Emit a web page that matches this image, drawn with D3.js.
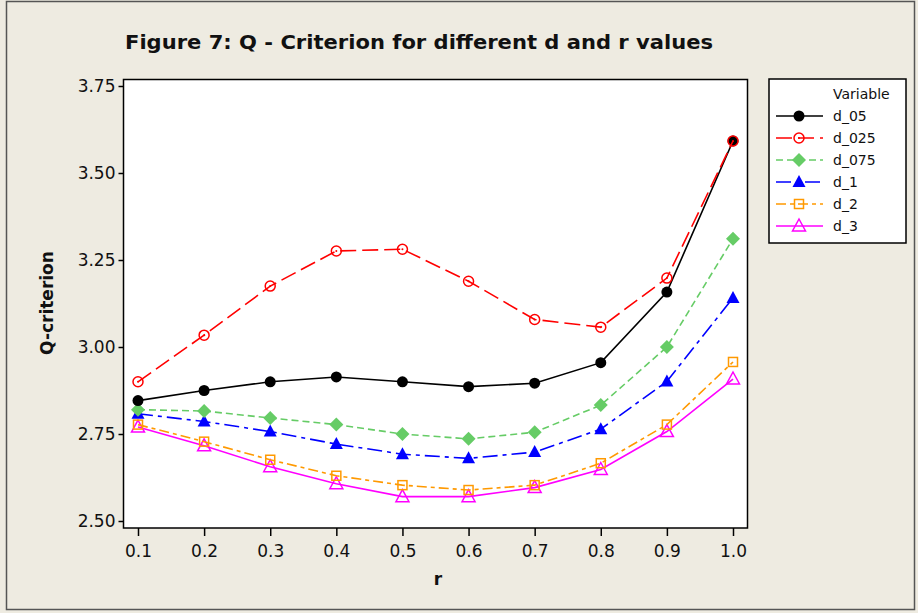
<!DOCTYPE html>
<html>
<head>
<meta charset="utf-8">
<script src="https://cdn.jsdelivr.net/npm/d3@7"></script>
<style>
  body { margin: 0; background: #eeebe1; }
  svg { display: block; }
  text { font-family: "DejaVu Sans", sans-serif; fill: #111; }
</style>
</head>
<body>
<div id="chart"></div>
<script>
// r values on x axis
const rValues = [0.1, 0.2, 0.3, 0.4, 0.5, 0.6, 0.7, 0.8, 0.9, 1.0];
const yTicks = [2.50, 2.75, 3.00, 3.25, 3.50, 3.75];

// series
const d_05  = [2.846, 2.875, 2.900, 2.914, 2.900, 2.886, 2.896, 2.955, 3.158, 3.592];
const d_025 = [2.900, 3.034, 3.175, 3.276, 3.281, 3.189, 3.079, 3.057, 3.198, 3.592];
const d_075 = [2.820, 2.816, 2.796, 2.777, 2.750, 2.736, 2.755, 2.833, 3.000, 3.311];
const d_1   = [2.808, 2.786, 2.757, 2.721, 2.692, 2.680, 2.698, 2.764, 2.901, 3.141];
const d_2   = [2.777, 2.728, 2.676, 2.630, 2.603, 2.589, 2.603, 2.666, 2.777, 2.957];
const d_3   = [2.770, 2.716, 2.656, 2.607, 2.570, 2.570, 2.596, 2.648, 2.757, 2.908];

const seriesNames = ["d_05", "d_025", "d_075", "d_1", "d_2", "d_3"];
const seriesValues = [d_05, d_025, d_075, d_1, d_2, d_3];

// look of each series
const styles = {
    d_05:  { color: "#000000", dash: null,         marker: "circleFilled" },
    d_025: { color: "#ff0000", dash: "16,6",       marker: "circleOpen" },
    d_075: { color: "#66cc66", dash: "7,4",        marker: "diamond" },
    d_1:   { color: "#0000ff", dash: "15,5,4,5",   marker: "triangleFilled" },
    d_2:   { color: "#ff9900", dash: "10,4,4,4",   marker: "square" },
    d_3:   { color: "#ff00ff", dash: null,         marker: "triangleOpen" }
};

const width = 918;
const height = 613;
const plot = { left: 123.5, right: 747.5, top: 79.5, bottom: 528 };

const svg = d3.select("#chart")
    .append("svg")
    .attr("width", width)
    .attr("height", height);

// outer frame
svg.append("rect")
    .attr("x", 6.5).attr("y", 1.5)
    .attr("width", 908).attr("height", 608)
    .attr("fill", "#eeebe1")
    .attr("stroke", "#555").attr("stroke-width", 1.5);

// title
svg.append("text")
    .attr("x", 125).attr("y", 49)
    .attr("font-size", 20)
    .attr("font-weight", "bold")
    .attr("font-family", "Liberation Sans, Arial, sans-serif")
    .attr("textLength", 588)
    .attr("lengthAdjust", "spacingAndGlyphs")
    .text("Figure 7: Q - Criterion for different d and r values");

// scales
const x = d3.scaleLinear().domain([0.1, 1.0]).range([138, 733]);
const y = d3.scaleLinear().domain([2.5, 3.75]).range([521, 86]);

// plot area
svg.append("rect")
    .attr("x", plot.left).attr("y", plot.top)
    .attr("width", plot.right - plot.left)
    .attr("height", plot.bottom - plot.top)
    .attr("fill", "#fff")
    .attr("stroke", "#000").attr("stroke-width", 1.5);

// axes
const xAxis = svg.append("g")
    .attr("transform", `translate(0,${plot.bottom})`)
    .call(d3.axisBottom(x).tickValues(rValues).tickFormat(d3.format(".1f")).tickSize(8).tickPadding(9));
const yAxis = svg.append("g")
    .attr("transform", `translate(${plot.left},0)`)
    .call(d3.axisLeft(y).tickValues(yTicks).tickFormat(d3.format(".2f")).tickSize(5).tickPadding(3));

[xAxis, yAxis].forEach(ax => {
    ax.select(".domain").remove();
    ax.selectAll("line").attr("stroke", "#000").attr("stroke-width", 1.5);
    ax.selectAll("text")
        .attr("font-size", 17)
        .attr("font-family", "DejaVu Sans Condensed, DejaVu Sans, sans-serif")
        .attr("fill", "#111");
});

// axis titles
svg.append("text")
    .attr("x", 438).attr("y", 585)
    .attr("text-anchor", "middle")
    .attr("font-size", 17).attr("font-weight", "bold")
    .text("r");
svg.append("text")
    .attr("transform", "translate(53,303) rotate(-90)")
    .attr("text-anchor", "middle")
    .attr("font-size", 17).attr("font-weight", "bold")
    .text("Q-criterion");

// marker drawing
function drawMarker(g, kind, color, cx, cy) {
    if (kind === "circleFilled") {
        g.append("circle").attr("cx", cx).attr("cy", cy).attr("r", 5.5).attr("fill", color);
    } else if (kind === "circleOpen") {
        g.append("circle").attr("cx", cx).attr("cy", cy).attr("r", 5)
            .attr("fill", "none").attr("stroke", color).attr("stroke-width", 1.5);
        g.append("circle").attr("cx", cx).attr("cy", cy).attr("r", 1).attr("fill", color);
    } else if (kind === "diamond") {
        g.append("path").attr("transform", `translate(${cx},${cy})`)
            .attr("d", "M0,-7L7,0L0,7L-7,0Z").attr("fill", color);
    } else if (kind === "triangleFilled") {
        g.append("path").attr("transform", `translate(${cx},${cy})`)
            .attr("d", "M0,-7L6.5,5L-6.5,5Z").attr("fill", color);
    } else if (kind === "square") {
        g.append("rect").attr("x", cx - 4.5).attr("y", cy - 4.5)
            .attr("width", 9).attr("height", 9)
            .attr("fill", "none").attr("stroke", color).attr("stroke-width", 1.5);
    } else if (kind === "triangleOpen") {
        g.append("path").attr("transform", `translate(${cx},${cy})`)
            .attr("d", "M0,-7L6.5,5L-6.5,5Z")
            .attr("fill", "none").attr("stroke", color).attr("stroke-width", 1.5);
    }
}

const line = d3.line()
    .x((d, i) => x(rValues[i]))
    .y(d => y(d));

// draw series, bottom ones first so black/red sit on top
const order = [5, 4, 3, 2, 0, 1];
order.forEach(k => {
    const name = seriesNames[k];
    const st = styles[name];
    const g = svg.append("g");
    g.append("path")
        .datum(seriesValues[k])
        .attr("d", line)
        .attr("fill", "none")
        .attr("stroke", st.color)
        .attr("stroke-width", 1.6)
        .attr("stroke-dasharray", st.dash);
    seriesValues[k].forEach((v, i) => drawMarker(g, st.marker, st.color, x(rValues[i]), y(v)));
});

// legend
const legend = svg.append("g");
legend.append("rect")
    .attr("x", 769).attr("y", 79)
    .attr("width", 137).attr("height", 164)
    .attr("fill", "#fff")
    .attr("stroke", "#000").attr("stroke-width", 1.5);
legend.append("text")
    .attr("x", 833).attr("y", 99)
    .attr("font-size", 14)
    .attr("font-family", "DejaVu Sans Condensed, DejaVu Sans, sans-serif")
    .text("Variable");

seriesNames.forEach((name, i) => {
    const st = styles[name];
    const ly = 116 + i * 22;
    const item = legend.append("g");
    item.append("line")
        .attr("x1", 776).attr("x2", 823)
        .attr("y1", ly).attr("y2", ly)
        .attr("stroke", st.color)
        .attr("stroke-width", 1.6)
        .attr("stroke-dasharray", st.dash);
    drawMarker(item, st.marker, st.color, 799, ly);
    item.append("text")
        .attr("x", 833).attr("y", ly + 5)
        .attr("font-size", 14)
        .attr("font-family", "DejaVu Sans Condensed, DejaVu Sans, sans-serif")
        .text(name);
});
</script>
</body>
</html>
